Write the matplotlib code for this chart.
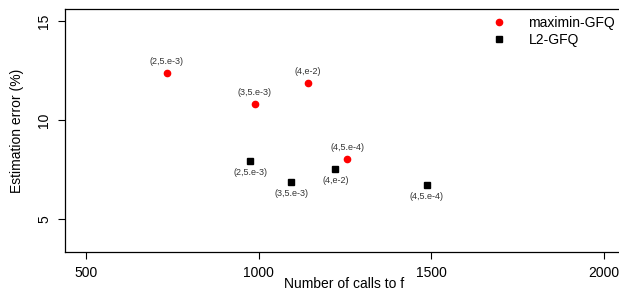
import numpy as np
import matplotlib.pyplot as plt

plt.rcParams['font.family'] = ['Liberation Sans', 'DejaVu Sans']

# maximin-GFQ
calls_maximin = [734, 988, 1142, 1256]
err_maximin = [12.37, 10.79, 11.85, 8.02]
lab_maximin = ['(2,5.e-3)', '(3,5.e-3)', '(4,e-2)', '(4,5.e-4)']

# L2-GFQ
calls_l2 = [976, 1094, 1222, 1486]
err_l2 = [7.91, 6.87, 7.51, 6.73]
lab_l2 = ['(2,5.e-3)', '(3,5.e-3)', '(4,e-2)', '(4,5.e-4)']

xticks = [500, 1000, 1500, 2000]
yticks = [5, 10, 15]

fig = plt.figure(figsize=(6.19, 2.93), dpi=100)
ax = fig.add_axes([65/619, 1-252/293, 1-65/619, (252-9)/293])

ax.plot(calls_maximin, err_maximin, 'o', color='red', markersize=4.5, label='maximin-GFQ', linestyle='none')
ax.plot(calls_l2, err_l2, 's', color='black', markersize=4.8, label='L2-GFQ', linestyle='none')

for x, y, t in zip(calls_maximin, err_maximin, lab_maximin):
    ax.annotate(t, (x, y), xytext=(0, 5), textcoords='offset points',
                ha='center', va='bottom', fontsize=6.5, color='#333333')
for x, y, t in zip(calls_l2, err_l2, lab_l2):
    ax.annotate(t, (x, y), xytext=(0, -5), textcoords='offset points',
                ha='center', va='top', fontsize=6.5, color='#333333')

ax.set_xlim(439, 2043)
ax.set_ylim(3.33, 15.6)
ax.set_xticks(xticks)
ax.set_yticks(yticks)
ax.set_yticklabels([str(v) for v in yticks], rotation=90, va='center')
ax.tick_params(direction='out', length=5, labelsize=10, width=0.8, pad=5)
ax.spines['right'].set_visible(False)
for s in ['left', 'bottom', 'top']:
    ax.spines[s].set_linewidth(0.9)

fig.text(344/619, 1-284/293, 'Number of calls to f', fontsize=10, ha='center', va='center')
fig.text(17/619, 1-(130.5)/293, 'Estimation error (%)', fontsize=10, ha='center', va='center', rotation=90)

ax.legend(loc='upper left', bbox_to_anchor=(491/619, 1-16/293), bbox_transform=fig.transFigure,
          frameon=False, fontsize=10, handletextpad=1.5, labelspacing=0.2,
          borderpad=0, borderaxespad=0, handlelength=1.2)

fig.savefig('out.png', dpi=100)
